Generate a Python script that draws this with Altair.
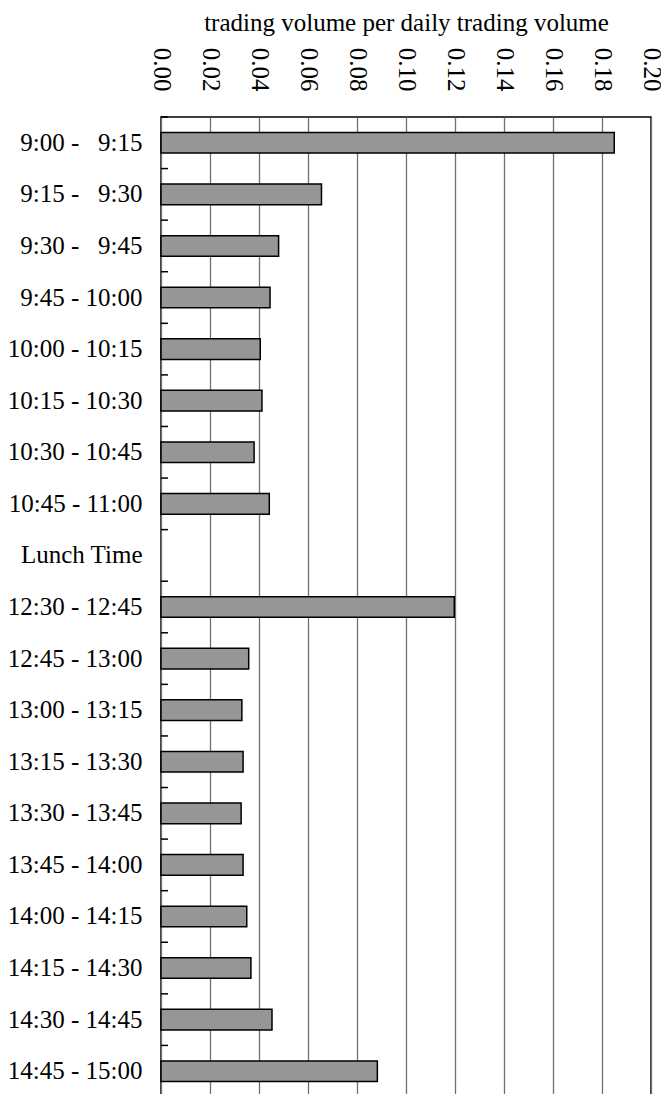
import altair as alt
import pandas as pd

NB = "\u00a0"
periods = [
    "9:00 -" + NB * 3 + "9:15",
    "9:15 -" + NB * 3 + "9:30",
    "9:30 -" + NB * 3 + "9:45",
    "9:45 - 10:00",
    "10:00 - 10:15",
    "10:15 - 10:30",
    "10:30 - 10:45",
    "10:45 - 11:00",
    "Lunch Time",
    "12:30 - 12:45",
    "12:45 - 13:00",
    "13:00 - 13:15",
    "13:15 - 13:30",
    "13:30 - 13:45",
    "13:45 - 14:00",
    "14:00 - 14:15",
    "14:15 - 14:30",
    "14:30 - 14:45",
    "14:45 - 15:00",
]
volume_share = [
    0.185, 0.0655, 0.048, 0.0445, 0.0405, 0.0412, 0.038, 0.0442,
    None,
    0.1197, 0.0358, 0.033, 0.0335, 0.0327, 0.0335, 0.035, 0.0367, 0.0453, 0.0883,
]
x_ticks = [0.00, 0.02, 0.04, 0.06, 0.08, 0.10, 0.12, 0.14, 0.16, 0.18, 0.20]

df = pd.DataFrame({"period": periods, "share": volume_share})

FONT = "Liberation Serif"
FS = 25

y_enc = alt.Y(
    "period:N",
    sort=periods,
    scale=alt.Scale(domain=periods, paddingInner=0, paddingOuter=0),
    axis=alt.Axis(
        title=None,
        ticks=False,
        domain=False,
        grid=False,
        labelPadding=19,
        labelFontSize=FS,
        labelFont=FONT,
        labelColor="black",
    ),
)

bars = (
    alt.Chart(df)
    .transform_filter("isValid(datum.share)")
    .mark_bar(
        height=alt.RelativeBandSize(band=0.4),
        fill="#969696",
        stroke="black",
        strokeWidth=1.5,
    )
    .encode(
        y=y_enc,
        x=alt.X(
            "share:Q",
            scale=alt.Scale(domain=[0, 0.2], nice=False, zero=True),
            axis=alt.Axis(
                orient="top",
                values=x_ticks,
                format=".2f",
                title="trading volume per daily trading volume",
                titleFont=FONT,
                titleFontSize=FS,
                titleFontWeight="normal",
                titleColor="black",
                titlePadding=12,
                labelAngle=90,
                labelAlign="right",
                labelBaseline="middle",
                labelFont=FONT,
                labelFontSize=FS,
                labelColor="black",
                labelPadding=26,
                ticks=False,
                domain=False,
                grid=True,
                gridColor="#707070",
                gridWidth=1.3,
            ),
        ),
    )
)

ticks = (
    alt.Chart(df)
    .mark_rule(color="black", strokeWidth=1.5)
    .encode(
        y=alt.Y("period:N", sort=periods, bandPosition=0),
        x=alt.value(0),
        x2=alt.value(7),
    )
)

chart = (
    alt.layer(bars, ticks)
    .properties(
        width=490,
        height=980,
        autosize=alt.AutoSizeParams(type="none"),
        padding={"left": 153, "top": 109, "right": 10, "bottom": 0},
        background="white",
    )
    .configure_view(stroke="black", strokeWidth=1.5)
)

chart.save("out.html", embed_options={"renderer": "svg", "actions": False})
